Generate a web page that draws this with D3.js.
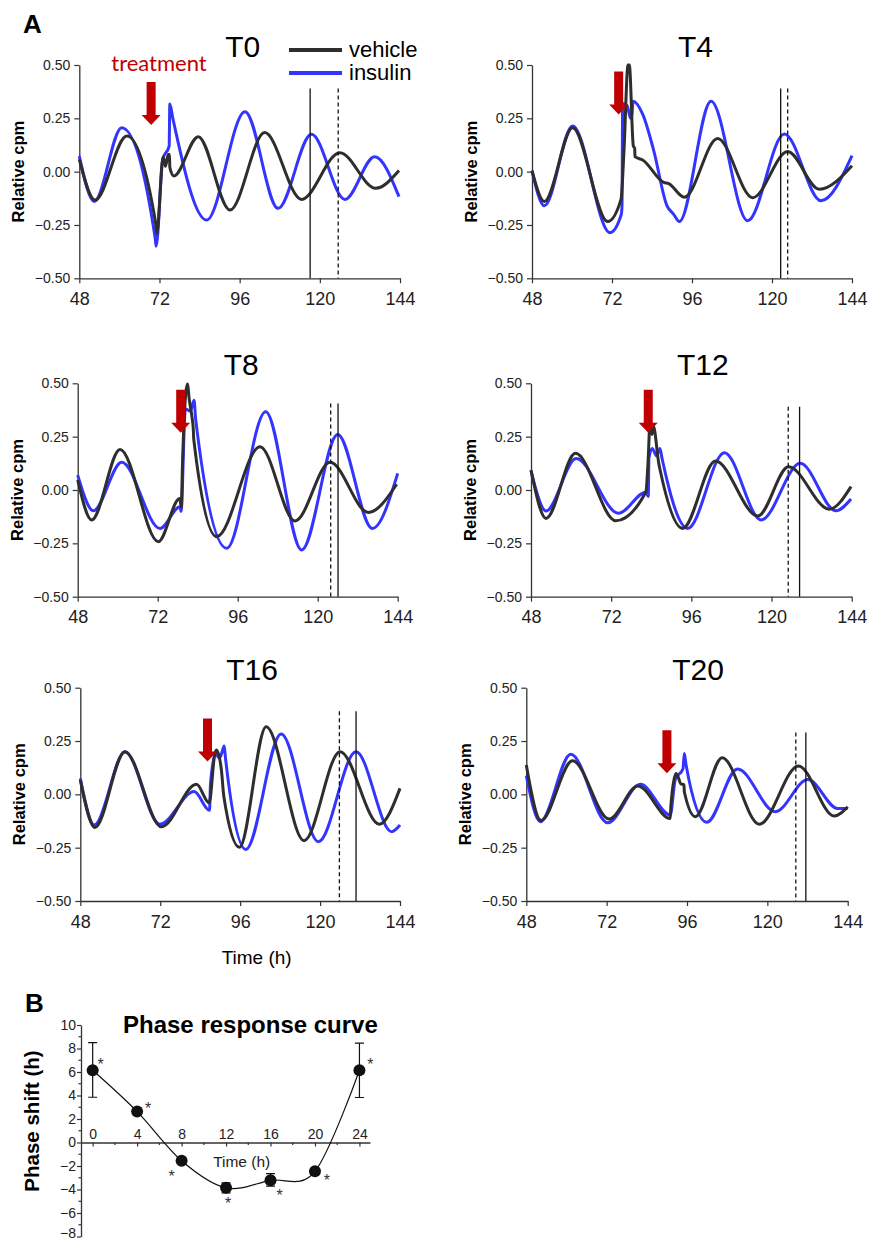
<!DOCTYPE html>
<html>
<head>
<meta charset="utf-8">
<script src="https://cdn.jsdelivr.net/npm/d3@7"></script>
<style>
  body { margin: 0; background: #fff; }
  svg { display: block; font-family: Arial, "Liberation Sans", sans-serif; }
</style>
</head>
<body>
<svg id="fig" width="872" height="1242"></svg>
<script>
// ---------------------- DATA ----------------------

const panelNames = ["T0", "T4", "T8", "T12", "T16", "T20"];
const xTicks = [48, 72, 96, 120, 144];
const yTicks = [-0.5, -0.25, 0, 0.25, 0.5];

// [time (h), relative cpm]
const t0Vehicle = [[48,0.058],[52.7,-0.133],[62.2,0.167],[70.9,-0.245],[71.2,-0.29],[73.1,0.07],[73.8,0.025],[74.6,0.08],[75.0,0.08],[75.1,0.02],[76.3,-0.02],[83.6,0.164],[93.1,-0.18],[103.5,0.183],[114.5,-0.13],[126,0.089],[136.7,-0.078],[143.7,0.005]];
const t0Insulin = [[48,0.073],[52.5,-0.14],[60.7,0.206],[70.7,-0.31],[71.0,-0.35],[73.0,0.06],[74.9,0.12],[75.1,0.317],[76.0,0.25],[86.1,-0.227],[97.6,0.281],[107.5,-0.172],[117.5,0.175],[127.5,-0.13],[136.4,0.07],[143.7,-0.117]];

const t4Vehicle = [[48,0.005],[51.7,-0.14],[60.2,0.206],[70.7,-0.234],[74.7,-0.13],[75.6,0.1],[76.8,0.5],[77.2,0.5],[78.4,0.12],[78.8,0.11],[78.9,0.07],[81.2,0.055],[87.5,-0.05],[89.0,-0.056],[93.7,-0.12],[103.7,0.156],[114.2,-0.122],[124.7,0.094],[134.2,-0.083],[144,0.028]];
const t4Insulin = [[48,0.005],[51.7,-0.16],[60.2,0.214],[71.4,-0.286],[74.8,-0.2],[75.0,-0.16],[75.2,0.32],[76.5,0.31],[77.6,0.25],[78.0,0.27],[78.3,0.33],[81.2,0.27],[84.5,0.1],[88.5,-0.16],[90.5,-0.2],[92.2,-0.234],[101.7,0.33],[112.7,-0.23],[123.7,0.177],[134.7,-0.136],[144,0.075]];

const t8Vehicle = [[48,0.047],[52.2,-0.14],[60.7,0.19],[72.2,-0.242],[78.6,-0.04],[79.1,-0.08],[79.4,0.1],[80.4,0.45],[80.9,0.497],[81.5,0.42],[82.3,0.34],[82.7,0.28],[82.8,0.24],[89.7,-0.219],[102.7,0.203],[113.2,-0.145],[123.7,0.13],[135.2,-0.105],[143.7,0.027]];
const t8Insulin = [[48,0.07],[52.7,-0.097],[61.2,0.13],[72.7,-0.18],[78.7,-0.078],[79.0,-0.1],[80.3,0.38],[81.8,0.37],[82.9,0.42],[83.4,0.33],[92.7,-0.273],[104.4,0.367],[115.2,-0.281],[126,0.26],[136.4,-0.18],[144,0.078]];

const t12Vehicle = [[48,0.094],[52.5,-0.133],[61.3,0.172],[73.4,-0.144],[82.4,-0.008],[83.0,0.12],[83.7,0.33],[84.2,0.26],[84.6,0.3],[86.3,0.12],[86.7,0.09],[93.4,-0.18],[103.2,0.136],[115.9,-0.122],[125.1,0.109],[137.3,-0.09],[143.8,0.016]];
const t12Insulin = [[48,0.09],[52.5,-0.098],[61.5,0.148],[74.2,-0.109],[82.4,-0.01],[83.1,-0.03],[83.3,0.15],[84.3,0.195],[85.6,0.16],[86.6,0.195],[87.2,0.15],[94.9,-0.18],[105.9,0.175],[116.9,-0.14],[128.6,0.125],[139.3,-0.097],[143.8,-0.042]];

const t16Vehicle = [[48,0.067],[52.4,-0.155],[61.4,0.2],[72.4,-0.152],[82.9,0.047],[86.7,-0.04],[88.4,0.19],[88.9,0.208],[90.4,0.11],[90.9,0.02],[91.1,-0.01],[95.8,-0.248],[103.8,0.317],[115.2,-0.217],[126,0.2],[137.8,-0.14],[144,0.028]];
const t16Insulin = [[48,0.075],[52.2,-0.144],[61.4,0.2],[71.9,-0.14],[82.2,0.013],[86.8,-0.075],[87.1,0.05],[88.6,0.19],[89.8,0.17],[90.6,0.2],[91.2,0.227],[91.6,0.17],[97.7,-0.258],[108.3,0.283],[119.5,-0.222],[130.8,0.2],[141.5,-0.175],[144,-0.144]];

const t20Vehicle = [[48,0.138],[52.4,-0.123],[61.8,0.158],[72.8,-0.116],[81.3,0.039],[91,-0.113],[91.2,-0.05],[92.7,0.098],[93.4,0.08],[94.1,0.05],[95.1,0.045],[95.2,0.012],[98.5,-0.105],[106.5,0.172],[117.6,-0.14],[129.3,0.133],[140,-0.102],[144,-0.058]];
const t20Insulin = [[48,0.088],[52.2,-0.128],[61.3,0.188],[72.3,-0.133],[82.1,0.047],[91,-0.097],[92.5,0.07],[94.8,0.12],[95.2,0.192],[95.7,0.14],[101.9,-0.131],[111.1,0.119],[122.4,-0.081],[132.1,0.07],[141,-0.066],[144,-0.066]];

const vehicleSeries = [t0Vehicle, t4Vehicle, t8Vehicle, t12Vehicle, t16Vehicle, t20Vehicle];
const insulinSeries = [t0Insulin, t4Insulin, t8Insulin, t12Insulin, t16Insulin, t20Insulin];

// phase markers (h): solid = vehicle peak, dashed = insulin peak
const solidLineAt = [117.1, 122.6, 126.1, 128.4, 130.8, 131.5];
const dashedLineAt = [125.5, 124.7, 123.9, 125.0, 125.8, 128.5];
const markerTop = [0.39, 0.39, 0.405, 0.39, 0.39, 0.29];

// treatment arrows (time, top value)
const arrowAt = [69.5, 74.0, 78.9, 83.1, 86.2, 90.0];
const arrowTop = [0.42, 0.47, 0.47, 0.47, 0.356, 0.30];

// phase response curve
const prcTimes = [0, 4, 8, 12, 16, 20, 24];
const prcShift = [6.15, 2.63, -1.55, -3.86, -3.22, -2.45, 6.15];
const prcErrLow = [3.85, null, null, -4.28, -3.72, null, 3.83];
const prcErrHigh = [8.5, null, null, -3.44, -2.65, null, 8.45];
const prcXTicks = [0, 4, 8, 12, 16, 20, 24];
const prcYTicks = [10, 8, 6, 4, 2, 0, -2, -4, -6, -8];

// ---------------------- LAYOUT ----------------------
const panelBoxes = [
  {x0: 79.3, x1: 400, y0: 65, y1: 278.3},
  {x0: 532, x1: 852, y0: 65, y1: 278.3},
  {x0: 77.7, x1: 397.7, y0: 383.3, y1: 596.7},
  {x0: 531, x1: 851.7, y0: 383.3, y1: 596.7},
  {x0: 80.3, x1: 400, y0: 687.7, y1: 901},
  {x0: 526.3, x1: 847.7, y0: 687.7, y1: 901}
];
// star placement relative to each PRC point (px)
const starOffsets = [[8,-8],[11,-6],[-10,13],[2,13],[9,13],[12,7],[11,-8]];

const BLUE = "#3434ff";
const BLACK = "#2e2e2e";
const RED = "#c00000";
const AXIS = "#333";

const svg = d3.select("#fig");

function styleAxis(sel, fontSize) {
    sel.select(".domain").attr("stroke", AXIS).attr("stroke-width", 1.3);
    sel.selectAll(".tick line").attr("stroke", AXIS).attr("stroke-width", 1.2);
    sel.selectAll(".tick text").attr("fill", "#222").style("font-size", fontSize + "px");
}

// ---------------------- PANELS A ----------------------
panelNames.forEach((name, i) => {
    const box = panelBoxes[i];
    const x = d3.scaleLinear().domain([48, 144]).range([box.x0, box.x1]);
    const y = d3.scaleLinear().domain([-0.5, 0.5]).range([box.y1, box.y0]);
    const g = svg.append("g").attr("class", "panel");

    const xAxis = g.append("g")
        .attr("transform", `translate(0,${box.y1})`)
        .call(d3.axisBottom(x).tickValues(xTicks).tickSize(5).tickSizeOuter(0).tickPadding(9));
    styleAxis(xAxis, 18);

    const yAxis = g.append("g")
        .attr("transform", `translate(${box.x0},0)`)
        .call(d3.axisLeft(y).tickValues(yTicks).tickSize(5).tickSizeOuter(0).tickPadding(4).tickFormat(d3.format(".2f")));
    styleAxis(yAxis, 14);

    g.append("text")
        .attr("transform", `translate(${box.x0 - 55},${y(0)}) rotate(-90)`)
        .attr("text-anchor", "middle")
        .style("font-size", "16.5px").style("font-weight", "bold")
        .text("Relative cpm");

    g.append("text")
        .attr("x", box.x0 + 146).attr("y", box.y0 - 8)
        .style("font-size", "30px")
        .text(name);

    const line = d3.line().x(d => x(d[0])).y(d => y(d[1])).curve(d3.curveMonotoneX);

    g.append("path").datum(insulinSeries[i])
        .attr("d", line).attr("fill", "none")
        .attr("stroke", BLUE).attr("stroke-width", 3).attr("stroke-linejoin", "round");
    g.append("path").datum(vehicleSeries[i])
        .attr("d", line).attr("fill", "none")
        .attr("stroke", BLACK).attr("stroke-width", 3).attr("stroke-linejoin", "round");

    // peak markers
    g.append("line")
        .attr("x1", x(solidLineAt[i])).attr("x2", x(solidLineAt[i]))
        .attr("y1", y(markerTop[i])).attr("y2", y(-0.5))
        .attr("stroke", "#111").attr("stroke-width", 1.3);
    g.append("line")
        .attr("x1", x(dashedLineAt[i])).attr("x2", x(dashedLineAt[i]))
        .attr("y1", y(markerTop[i])).attr("y2", y(-0.5))
        .attr("stroke", "#111").attr("stroke-width", 1.3).attr("stroke-dasharray", "4,3");

    // treatment arrow
    const ax = x(arrowAt[i]), ay = y(arrowTop[i]);
    const shaft = 4.5, head = 9.5, len = 43, headLen = 10;
    g.append("path")
        .attr("d", `M${ax - shaft},${ay} L${ax + shaft},${ay} L${ax + shaft},${ay + len - headLen}
                    L${ax + head},${ay + len - headLen} L${ax},${ay + len} L${ax - head},${ay + len - headLen}
                    L${ax - shaft},${ay + len - headLen} Z`)
        .attr("fill", RED);
});

// legend + labels for panel A
svg.append("text").attr("x", 23).attr("y", 33)
    .style("font-size", "26px").style("font-weight", "bold").text("A");

svg.append("text").attr("x", 159).attr("y", 71)
    .attr("text-anchor", "middle")
    .style("font-family", "Lato, 'Open Sans', sans-serif").style("font-size", "22px")
    .attr("fill", RED).text("treatment");

const legendItems = [{label: "vehicle", color: BLACK}, {label: "insulin", color: BLUE}];
legendItems.forEach((item, k) => {
    const ly = 50 + k * 23;
    svg.append("line").attr("x1", 289).attr("x2", 342).attr("y1", ly).attr("y2", ly)
        .attr("stroke", item.color).attr("stroke-width", 4);
    svg.append("text").attr("x", 349).attr("y", ly + 7)
        .style("font-size", "22px").text(item.label);
});

svg.append("text").attr("x", 256.7).attr("y", 964)
    .attr("text-anchor", "middle").style("font-size", "19px").text("Time (h)");

// ---------------------- PANEL B ----------------------
const xB = d3.scaleLinear().domain([-1.05, 24.95]).range([81, 370]);
const yB = d3.scaleLinear().domain([-8, 10]).range([1236.5, 1025]);
const gB = svg.append("g").attr("class", "prc");

const yAxisB = gB.append("g").attr("transform", `translate(${xB(-1.05)},0)`)
    .call(d3.axisLeft(yB).tickValues(prcYTicks).tickSize(4).tickSizeOuter(0).tickPadding(1));
styleAxis(yAxisB, 14);
// lowest label sits right at the page edge; lift it a touch
yAxisB.selectAll(".tick text").filter(d => d === -8).attr("dy", "0.1em");
gB.append("g").selectAll("line").data(d3.range(-7, 10, 2)).join("line")
    .attr("x1", xB(-1.05) - 2.5).attr("x2", xB(-1.05))
    .attr("y1", d => yB(d)).attr("y2", d => yB(d))
    .attr("stroke", AXIS).attr("stroke-width", 1.2);

const xAxisB = gB.append("g").attr("transform", `translate(0,${yB(0)})`)
    .call(d3.axisBottom(xB).tickValues(prcXTicks).tickSize(4).tickSizeOuter(0));
styleAxis(xAxisB, 14);
xAxisB.selectAll(".tick text").attr("y", -4).attr("dy", 0);
gB.append("g").selectAll("line").data(d3.range(2, 25, 4)).join("line")
    .attr("x1", d => xB(d)).attr("x2", d => xB(d))
    .attr("y1", yB(0)).attr("y2", yB(0) + 2.5)
    .attr("stroke", AXIS).attr("stroke-width", 1.2);

const prcData = prcTimes.map((t, k) => ({t, v: prcShift[k], lo: prcErrLow[k], hi: prcErrHigh[k], off: starOffsets[k]}));

gB.append("path").datum(prcData)
    .attr("d", d3.line().x(d => xB(d.t)).y(d => yB(d.v)).curve(d3.curveCardinal.tension(0)))
    .attr("fill", "none").attr("stroke", "#111").attr("stroke-width", 1.2);

const errs = prcData.filter(d => d.lo !== null);
gB.selectAll(".err").data(errs).join("path").attr("class", "err")
    .attr("d", d => `M${xB(d.t) - 4.5},${yB(d.hi)}H${xB(d.t) + 4.5}M${xB(d.t)},${yB(d.hi)}V${yB(d.lo)}M${xB(d.t) - 4.5},${yB(d.lo)}H${xB(d.t) + 4.5}`)
    .attr("stroke", "#111").attr("stroke-width", 1.2).attr("fill", "none");

gB.selectAll(".dot").data(prcData).join("circle").attr("class", "dot")
    .attr("cx", d => xB(d.t)).attr("cy", d => yB(d.v)).attr("r", 6).attr("fill", "#111");

gB.selectAll(".star").data(prcData).join("text").attr("class", "star")
    .attr("x", d => xB(d.t) + d.off[0]).attr("y", d => yB(d.v) + d.off[1] + 8)
    .attr("text-anchor", "middle").style("font-size", "16px").attr("fill", "#333")
    .text("*");

gB.append("text").attr("x", 241.7).attr("y", 1166.7).attr("text-anchor", "middle")
    .style("font-size", "15.5px").attr("fill", "#222").text("Time (h)");

gB.append("text").attr("x", 123).attr("y", 1033)
    .style("font-size", "24px").style("font-weight", "bold").text("Phase response curve");

gB.append("text").attr("transform", `translate(39,1121) rotate(-90)`)
    .attr("text-anchor", "middle").style("font-size", "20.5px").style("font-weight", "bold")
    .text("Phase shift (h)");

svg.append("text").attr("x", 25).attr("y", 1012)
    .style("font-size", "26px").style("font-weight", "bold").text("B");
</script>
</body>
</html>
